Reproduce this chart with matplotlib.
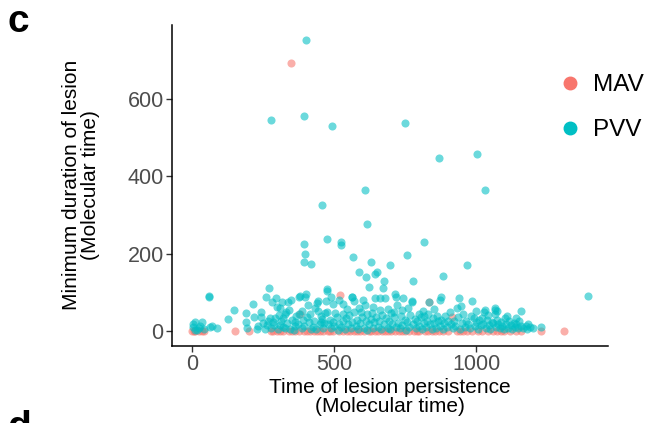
import matplotlib

matplotlib.use("Agg")
import matplotlib.pyplot as plt  # noqa: E402
from matplotlib.lines import Line2D  # noqa: E402

plt.rcParams["font.family"] = ["Liberation Sans", "DejaVu Sans"]

MAV_COL = "#F8766D"
PVV_COL = "#00BFC4"

# --- data (molecular time units) ---
# MAV lesions: nearly all sit on the zero line
mav_x = [0, 5, 10, 22, 33, 40, 150, 200, 276, 285, 297, 310, 321, 339, 350, 360,
         374, 395, 405, 415, 428, 440, 450, 462, 478, 485, 497, 515, 530, 545, 555,
         568, 580, 592, 605, 621, 630, 644, 655, 668, 680, 691, 700, 715, 728, 740,
         750, 762, 780, 791, 800, 820, 832, 845, 855, 870, 884, 900, 932, 945, 955,
         967, 985, 1008, 1020, 1043, 1060, 1075, 1088, 1100, 1120, 1140, 1160, 1229, 1310,
         347, 519, 380, 835, 914]
mav_y = [0, 1, 0, 2, 0, 1, 0, 0, 0, 1, 0, 0, 0, 0, 2, 0,
         0, 1, 0, 0, 2, 0, 1, 0, 0, 2, 0, 0, 1, 0, 2,
         0, 0, 0, 1, 0, 2, 0, 1, 0, 0, 0, 2, 0, 1, 0,
         0, 2, 0, 0, 1, 0, 2, 0, 0, 1, 0, 0, 0, 2, 0,
         0, 1, 0, 0, 0, 2, 0, 0, 1, 0, 0, 2, 0, 0,
         694, 94, 44, 77, 38]

# PVV lesions: long-duration outliers
pvv_hi_x = [400, 277, 392, 492, 750, 870, 1002, 608, 1031, 458, 616, 392, 473, 525,
            525, 817, 397, 393, 419, 567, 630, 758, 696, 967, 587, 611, 644, 651,
            675, 778, 882, 624, 673, 476, 475, 269]
pvv_hi_y = [752, 546, 556, 531, 539, 447, 459, 365, 364, 327, 277, 226, 239, 230,
            223, 230, 201, 178, 173, 192, 180, 197, 171, 171, 153, 140, 147, 154,
            129, 129, 143, 115, 112, 109, 103, 112]

# PVV lesions: dense low band
pvv_x = [3, 10, 17, 33, 24, 8, 40, 59, 61, 69, 88, 127, 145, 2, 28, 58,
         188, 190, 193, 212, 217, 232, 240, 242, 258, 262, 226, 250, 255, 268,
         274, 280, 289, 292, 295, 297, 309, 309, 315, 276, 284, 300, 305, 318, 312,
         321, 330, 338, 341, 348, 325, 334, 345, 352, 360, 366, 357, 328, 363,
         374, 376, 380, 398, 400, 407, 372, 385, 390, 395, 403, 412, 418, 388, 415,
         438, 442, 444, 458, 425, 430, 436, 448, 452, 460, 465, 468, 432, 455,
         470, 474, 489, 497, 503, 515, 478, 484, 490, 495, 500, 508, 512, 518,
         532, 532, 562, 564, 568, 568, 525, 530, 538, 543, 548, 553, 558, 563, 545,
         595, 603, 609, 575, 580, 584, 590, 598, 605, 612, 617, 588, 614,
         632, 638, 644, 662, 668, 622, 628, 635, 641, 648, 653, 657, 665, 660,
         679, 700, 709, 715, 718, 721, 675, 683, 688, 693, 698, 705, 712, 716, 690,
         744, 761, 773, 725, 730, 735, 740, 748, 752, 757, 765, 768, 738,
         774, 800, 812, 778, 783, 788, 793, 797, 805, 809, 815, 818,
         835, 822, 827, 832, 838, 843, 848, 853, 858, 863, 867, 850,
         873, 876, 872, 878, 882, 887, 892, 897, 902, 907, 912, 917,
         932, 941, 922, 927, 936, 945, 950, 955, 960, 965, 948,
         985, 991, 1020, 972, 978, 983, 996, 1001, 1006, 1011, 1016, 998,
         1029, 1032, 1055, 1065, 1065, 1067, 1025, 1035, 1040, 1045, 1050, 1060, 1070, 1042,
         1073, 1073, 1102, 1078, 1083, 1088, 1093, 1097, 1107, 1112, 1117, 1110,
         1159, 1122, 1127, 1132, 1137, 1142, 1147, 1152, 1157, 1165, 1140,
         1184, 1199, 1229, 1175, 1190, 1178, 1394]
pvv_y = [12, 23, 4, 23, 8, 3, 6, 92, 12, 15, 8, 31, 55, 18, 14, 90,
         23, 48, 8, 71, 38, 15, 50, 36, 90, 17, 5, 22, 6, 28,
         34, 77, 17, 34, 86, 63, 60, 17, 77, 8, 24, 5, 42, 12, 28,
         34, 51, 77, 55, 81, 10, 22, 6, 30, 15, 40, 4, 45, 25,
         44, 88, 92, 90, 96, 67, 20, 8, 30, 14, 38, 24, 6, 52, 45,
         73, 79, 53, 32, 12, 28, 5, 18, 40, 10, 22, 48, 60, 25,
         79, 50, 90, 70, 47, 81, 18, 30, 8, 25, 14, 36, 4, 20,
         70, 44, 90, 88, 79, 50, 12, 28, 6, 35, 18, 42, 10, 25, 58,
         50, 81, 68, 14, 30, 6, 22, 38, 10, 26, 44, 60, 4,
         47, 64, 86, 87, 43, 18, 32, 8, 24, 38, 12, 28, 5, 55,
         87, 47, 51, 96, 90, 68, 20, 34, 10, 26, 6, 18, 36, 12, 58,
         87, 60, 79, 22, 8, 40, 16, 30, 4, 24, 12, 42, 55,
         75, 44, 53, 18, 32, 8, 26, 14, 36, 6, 22, 40,
         77, 12, 28, 46, 18, 6, 34, 22, 10, 40, 28, 58,
         80, 90, 14, 30, 6, 22, 40, 12, 28, 50, 18, 8,
         60, 85, 26, 14, 38, 6, 22, 44, 12, 28, 65,
         78, 34, 34, 18, 8, 40, 14, 24, 6, 30, 16, 52,
         51, 55, 25, 56, 45, 60, 20, 10, 30, 16, 6, 22, 12, 42,
         53, 30, 34, 18, 8, 24, 14, 6, 20, 10, 26, 40,
         53, 16, 6, 22, 12, 18, 8, 26, 14, 10, 35,
         19, 8, 12, 14, 12, 6, 92]

x_ticks = [0, 500, 1000]
y_ticks = [0, 200, 400, 600]


def main():
    fig = plt.figure(figsize=(6.56, 4.23), dpi=100)
    ax = fig.add_axes([0.2622, 0.1827, 0.6642, 0.7583])

    kw = dict(s=34, alpha=0.58, linewidths=0)
    ax.scatter(mav_x, mav_y, color=MAV_COL, **kw)
    ax.scatter(pvv_x, pvv_y, color=PVV_COL, **kw)
    ax.scatter(pvv_hi_x, pvv_hi_y, color=PVV_COL, **kw)

    ax.set_xlim(-72, 1464)
    ax.set_ylim(-37, 791)
    ax.set_xticks(x_ticks)
    ax.set_yticks(y_ticks)
    for side in ("top", "right"):
        ax.spines[side].set_visible(False)
    for side in ("left", "bottom"):
        ax.spines[side].set_linewidth(1.1)
    ax.tick_params(labelsize=15.5, labelcolor="#4D4D4D", color="#333333",
                   length=4, width=1, pad=2)

    ax.set_xlabel("Time of lesion persistence\n(Molecular time)", fontsize=15,
                  linespacing=1.0, labelpad=2)
    ax.set_ylabel("Minimum duration of lesion\n(Molecular time)", fontsize=15,
                  linespacing=1.0, labelpad=20)

    handles = [Line2D([], [], marker="o", ls="", color=MAV_COL, markersize=9, label="MAV"),
               Line2D([], [], marker="o", ls="", color=PVV_COL, markersize=9, label="PVV")]
    fig.legend(handles=handles, loc="center left", bbox_to_anchor=(0.832, 0.745),
               frameon=False, fontsize=17.5, handletextpad=0.35, labelspacing=0.95,
               handlelength=1.2, borderaxespad=0)

    # panel letters: "c" for this panel, the top of the next panel's "d" peeks in at the bottom
    fig.text(0.012, 0.99, "c", fontsize=28, fontweight="bold", va="top", ha="left")
    fig.text(0.012, 0.03, "d", fontsize=28, fontweight="bold", va="top", ha="left")

    fig.savefig("out.png", dpi=100)
    plt.close(fig)


if __name__ == "__main__":
    main()
